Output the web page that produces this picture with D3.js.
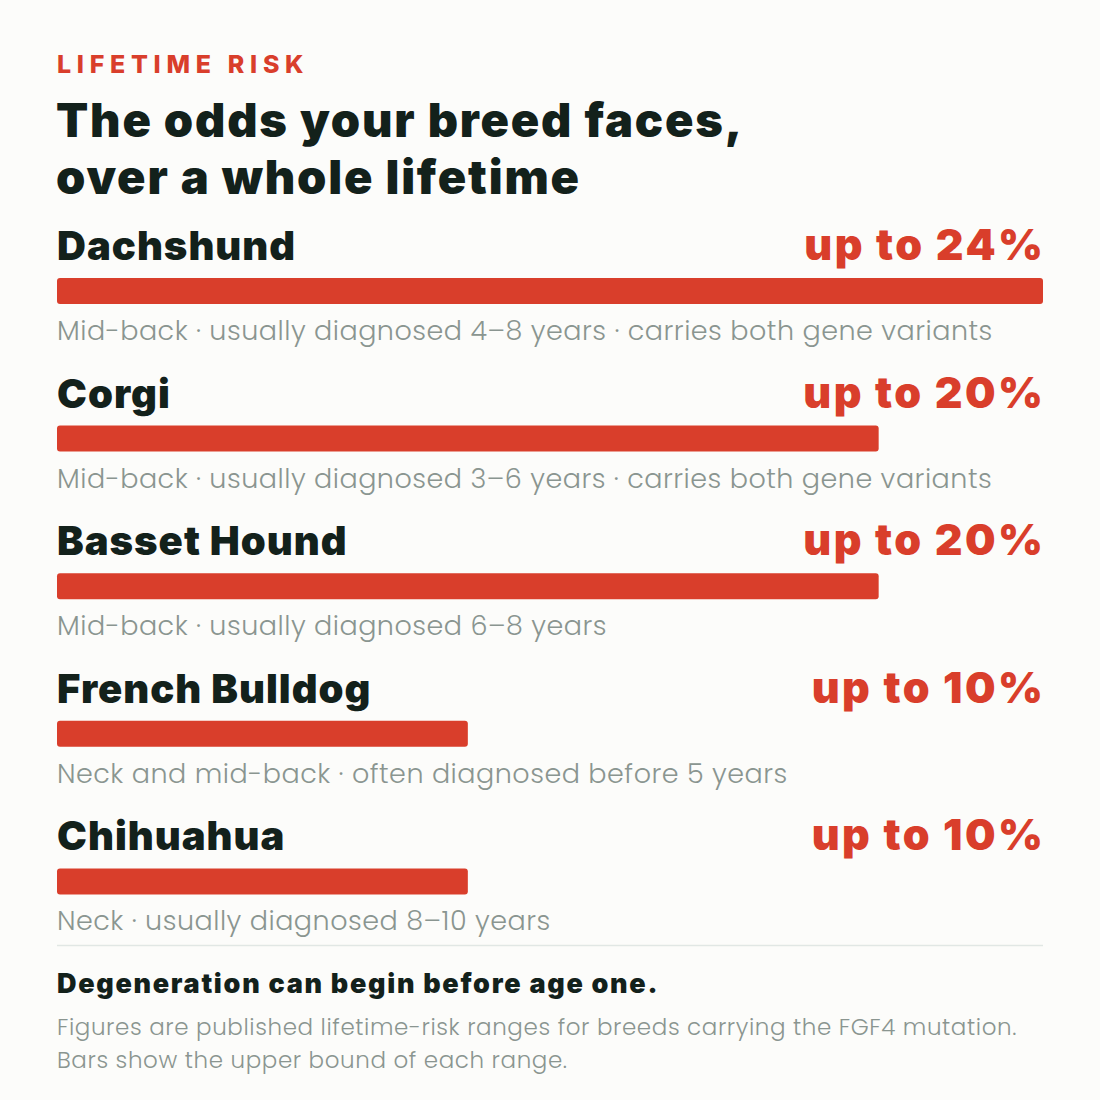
<!DOCTYPE html>
<html>
<head>
<meta charset="utf-8">
<script src="https://cdn.jsdelivr.net/npm/d3@7"></script>
<style>
  body { margin: 0; background: #fcfcfa; }
  svg { display: block; }
</style>
</head>
<body>
<script>
// data
var breeds = ["Dachshund", "Corgi", "Basset Hound", "French Bulldog", "Chihuahua"];
var upperRisk = [24, 20, 20, 10, 10];
var notes = [
    "Mid-back \u00b7 usually diagnosed 4\u20138 years \u00b7 carries both gene variants",
    "Mid-back \u00b7 usually diagnosed 3\u20136 years \u00b7 carries both gene variants",
    "Mid-back \u00b7 usually diagnosed 6\u20138 years",
    "Neck and mid-back \u00b7 often diagnosed before 5 years",
    "Neck \u00b7 usually diagnosed 8\u201310 years"
];
var kicker = "LIFETIME RISK";
var titleLines = ["The odds your breed faces,", "over a whole lifetime"];
var takeaway = "Degeneration can begin before age one.";
var footLines = [
    "Figures are published lifetime-risk ranges for breeds carrying the FGF4 mutation.",
    "Bars show the upper bound of each range."
];

var W = 1100, H = 1100;
var left = 57, right = 1043;
var red = "#d93e2b", ink = "#13211b", grey = "#8a9590";
var headFont = "Inter, 'Noto Sans', sans-serif";
var bodyFont = "Poppins, 'Open Sans', 'Noto Sans', sans-serif";

var svg = d3.select("body").append("svg")
    .attr("width", W)
    .attr("height", H)
    .style("background", "#fcfcfa");

var x = d3.scaleLinear().domain([0, d3.max(upperRisk)]).range([left, right]);
var y = d3.scaleBand().domain(breeds).range([222, 960]).paddingInner(0);

svg.append("text")
    .attr("x", left).attr("y", 73)
    .attr("fill", red)
    .attr("font-family", headFont)
    .attr("font-weight", 800)
    .attr("font-size", 25)
    .attr("letter-spacing", 5.7)
    .text(kicker);

svg.append("g").selectAll("text")
    .data(titleLines)
    .join("text")
    .attr("x", left - 1)
    .attr("y", function(d, i) { return 137 + i * 57; })
    .attr("fill", ink)
    .attr("font-family", headFont)
    .attr("font-weight", 900)
    .attr("font-size", 47)
    .attr("letter-spacing", 1.8)
    .text(function(d) { return d; });

var rows = svg.append("g").selectAll("g")
    .data(breeds)
    .join("g")
    .attr("transform", function(d) { return "translate(0," + y(d) + ")"; });

rows.append("text")
    .attr("x", left)
    .attr("y", 38)
    .attr("fill", ink)
    .attr("font-family", headFont)
    .attr("font-weight", 900)
    .attr("font-size", 40)
    .attr("letter-spacing", 1)
    .text(function(d) { return d; });

rows.append("text")
    .attr("x", right + 2.5)
    .attr("y", 38)
    .attr("text-anchor", "end")
    .attr("fill", red)
    .attr("font-family", headFont)
    .attr("font-weight", 900)
    .attr("font-size", 43)
    .attr("letter-spacing", 2.5)
    .text(function(d, i) { return "up to " + upperRisk[i] + "%"; });

rows.append("rect")
    .attr("x", x(0))
    .attr("y", 56)
    .attr("width", function(d, i) { return x(upperRisk[i]) - x(0); })
    .attr("height", 26)
    .attr("rx", 3)
    .attr("fill", red);

rows.append("text")
    .attr("x", left)
    .attr("y", 118)
    .attr("fill", grey)
    .attr("font-family", bodyFont)
    .attr("font-weight", 300)
    .attr("font-size", 27)
    .attr("letter-spacing", 0.5)
    .text(function(d, i) { return notes[i]; });

svg.append("line")
    .attr("x1", left).attr("x2", right)
    .attr("y1", 945.5).attr("y2", 945.5)
    .attr("stroke", "#e1e7e4")
    .attr("stroke-width", 1.5);

svg.append("text")
    .attr("x", left).attr("y", 993)
    .attr("fill", ink)
    .attr("font-family", headFont)
    .attr("font-weight", 900)
    .attr("font-size", 27)
    .attr("letter-spacing", 1.7)
    .text(takeaway);

svg.append("g").selectAll("text")
    .data(footLines)
    .join("text")
    .attr("x", left)
    .attr("y", function(d, i) { return 1035 + i * 33; })
    .attr("fill", grey)
    .attr("font-family", bodyFont)
    .attr("font-weight", 300)
    .attr("font-size", 23)
    .attr("letter-spacing", 0.6)
    .text(function(d) { return d; });
</script>
</body>
</html>
